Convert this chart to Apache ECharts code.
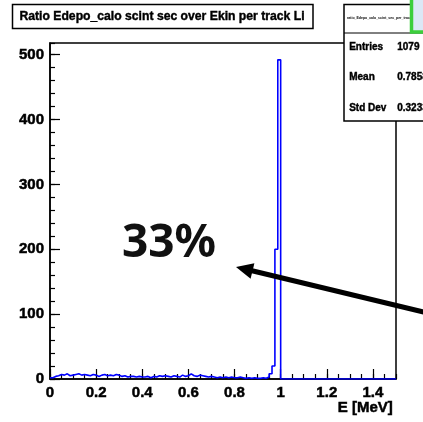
<!DOCTYPE html>
<html>
<head>
<meta charset="utf-8">
<script src="https://cdn.jsdelivr.net/npm/echarts@6/dist/echarts.min.js"></script>
<style>
  html, body { margin: 0; padding: 0; background: #fff; }
  #chart { width: 423px; height: 422px; }
</style>
</head>
<body>
<div id="chart"></div>
<script>
// histogram: 120 bins of 0.0125 MeV from 0 to 1.5
var binWidth = 0.0125;
var counts = [
  2, 4, 5, 7, 6, 8, 5, 6, 7, 8,
  6, 7, 6, 5, 7, 6, 4, 6, 7, 5,
  6, 5, 7, 6, 4, 5, 3, 4, 4, 3,
  4, 3, 3, 4, 2, 4, 3, 5, 4, 5,
  4, 3, 5, 4, 3, 6, 4, 5, 8, 5,
  4, 6, 5, 4, 3, 4, 3, 2, 3, 2,
  3, 2, 3, 2, 2, 3, 2, 1, 2, 1,
  2, 1, 1, 2, 1, 3, 8, 20, 200, 492,
  0, 0, 0, 0, 0, 0, 0, 0, 0, 0,
  0, 0, 0, 0, 0, 0, 0, 0, 0, 0,
  0, 0, 0, 0, 0, 0, 0, 0, 0, 0,
  0, 0, 0, 0, 0, 0, 0, 0, 0, 0
];
var statNames = ["Entries", "Mean", "Std Dev"];
var statValues = ["1079", "0.7858", "0.3233"];

var xMax = 1.5, yMax = 518;

// step outline: each point is a bin's left edge
var histData = counts.map(function (c, i) { return [i * binWidth, c]; });
histData.push([xMax, counts[counts.length - 1]]);

var font = "Liberation Sans";
var chart = echarts.init(document.getElementById("chart"), null, { renderer: "canvas" });

// 统计框
var statTexts = [];
statNames.forEach(function (n, i) {
  statTexts.push({ type: "text", left: 349, top: 42 + i * 30.5, z: 102,
    style: { text: n, font: "bold 10px " + font, fill: "#000", stroke: "#000", lineWidth: 0.4 } });
  statTexts.push({ type: "text", left: 397, top: 42 + i * 30.5, z: 102,
    style: { text: statValues[i], font: "bold 10px " + font, fill: "#000", stroke: "#000", lineWidth: 0.4 } });
});

var labelStyle = { margin: 6, color: "#000", fontFamily: font, fontWeight: "bold", fontSize: 15,
  textBorderColor: "#000", textBorderWidth: 0.5 };

var option = {
  animation: false,
  grid: { left: 50, right: 27, top: 43, bottom: 43, show: true,
    borderColor: "#000", borderWidth: 1.5, backgroundColor: "#fff" },
  xAxis: [{
    type: "value", min: 0, max: xMax, interval: 0.2,
    axisLine: { show: true, lineStyle: { color: "#000", width: 1.5 } },
    axisTick: { show: true, inside: true, length: 10, lineStyle: { color: "#000", width: 1.2 } },
    splitLine: { show: false },
    axisLabel: Object.assign({ showMaxLabel: false,
      formatter: function (v) { return +v.toFixed(1) + ""; } }, labelStyle)
  }, {
    type: "value", min: 0, max: xMax, interval: 0.05, position: "bottom",
    axisLine: { show: false },
    axisTick: { show: true, inside: true, length: 5, lineStyle: { color: "#000", width: 1.2 } },
    axisLabel: { show: false }, splitLine: { show: false }
  }],
  yAxis: [{
    type: "value", min: 0, max: yMax, interval: 100,
    axisLine: { show: true, lineStyle: { color: "#000", width: 1.5 } },
    axisTick: { show: true, inside: true, length: 10, lineStyle: { color: "#000", width: 1.2 } },
    splitLine: { show: false },
    axisLabel: Object.assign({ showMaxLabel: false }, labelStyle)
  }, {
    type: "value", min: 0, max: yMax, interval: 20, position: "left",
    axisLine: { show: false },
    axisTick: { show: true, inside: true, length: 5, lineStyle: { color: "#000", width: 1.2 } },
    axisLabel: { show: false }, splitLine: { show: false }
  }],
  series: [{
    type: "line", step: "end", data: histData, showSymbol: false,
    xAxisIndex: 0, yAxisIndex: 0,
    lineStyle: { color: "#0000ff", width: 1.6 }, z: 3
  }],
  graphic: [
    // 标题
    { type: "rect", shape: { x: 12.5, y: 4.5, width: 300.5, height: 24 }, z: 100,
      style: { fill: "#fff", stroke: "#000", lineWidth: 1.5 } },
    { type: "text", x: 162, y: 16.5, z: 101,
      style: { text: "Ratio Edepo_calo scint sec over Ekin per track Li",
        font: "bold 12.2px " + font, fill: "#000", stroke: "#000", lineWidth: 0.4,
        align: "center", verticalAlign: "middle" } },
    // stats box
    { type: "rect", shape: { x: 344, y: 4.5, width: 100, height: 116.5 }, z: 100,
      style: { fill: "#fff", stroke: "#000", lineWidth: 1.5 } },
    { type: "line", shape: { x1: 344, y1: 33, x2: 423, y2: 33 }, z: 101,
      style: { stroke: "#000", lineWidth: 1 } },
    { type: "text", left: 347, top: 16, z: 101,
      style: { text: "ratio_Edepo_calo_scint_sec_per_track_Li", font: "bold 3.5px " + font, fill: "#000" } },
    { type: "rect", shape: { x: 411.5, y: -3, width: 20, height: 35 }, z: 103,
      style: { fill: "#dce8f6", stroke: "#3ccf3c", lineWidth: 3.5 } }
  ].concat(statTexts).concat([
    // 33% 标注和箭头
    { type: "text", left: 122, top: 221, z: 110,
      style: { text: "33%", font: "bold 46px 'Noto Sans'", fill: "#111" } },
    { type: "line", shape: { x1: 430, y1: 313.5, x2: 250, y2: 270.3 }, z: 110,
      style: { stroke: "#000", lineWidth: 5 } },
    { type: "polygon", shape: { points: [[236, 267], [254.4, 263.2], [250.6, 278.8]] }, z: 110,
      style: { fill: "#000" } },
    // 轴标题
    { type: "text", right: 30, top: 400, z: 110,
      style: { text: "E [MeV]", font: "bold 15px " + font, fill: "#000", stroke: "#000", lineWidth: 0.5 } }
  ])
};

chart.setOption(option);
window.onresize = function () { chart.resize(); };
</script>
</body>
</html>
